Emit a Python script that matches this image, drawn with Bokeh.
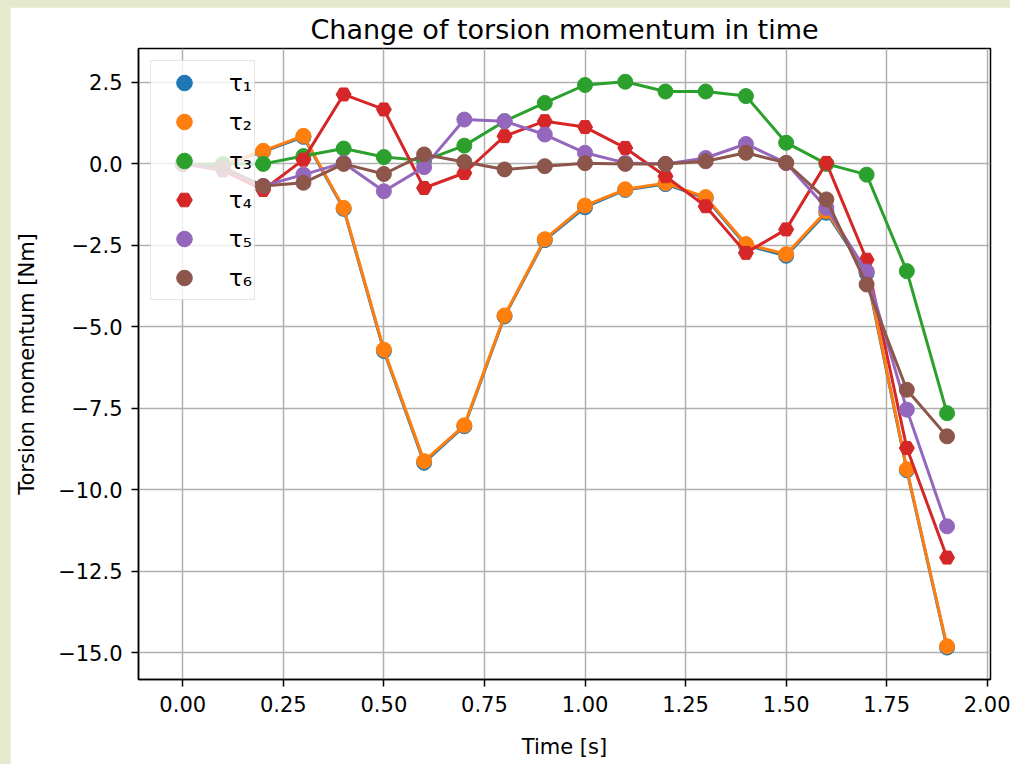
from bokeh.plotting import figure
from bokeh.embed import file_html
from bokeh.resources import INLINE
from bokeh.models import Range1d, FixedTicker, Legend, LegendItem, CustomJSTickFormatter
from bokeh.layouts import column

# ---- data ----
time_s = [0.0, 0.1, 0.2, 0.3, 0.4, 0.5, 0.6, 0.7, 0.8, 0.9,
          1.0, 1.1, 1.2, 1.3, 1.4, 1.5, 1.6, 1.7, 1.8, 1.9]
tau1 = [0.0, -0.05, 0.38, 0.83, -1.38, -5.74, -9.17, -8.05, -4.68, -2.34,
        -1.33, -0.80, -0.62, -1.05, -2.50, -2.82, -1.50, -3.36, -9.40, -14.84]
tau2 = [0.0, -0.05, 0.40, 0.86, -1.35, -5.70, -9.12, -8.02, -4.65, -2.31,
        -1.28, -0.78, -0.59, -1.02, -2.46, -2.77, -1.45, -3.30, -9.37, -14.80]
tau3 = [0.0, 0.0, 0.0, 0.24, 0.47, 0.21, 0.10, 0.56, 1.31, 1.87,
        2.42, 2.52, 2.22, 2.22, 2.08, 0.65, 0.0, -0.33, -3.29, -7.65]
tau4 = [0.0, -0.20, -0.80, 0.13, 2.13, 1.67, -0.74, -0.28, 0.85, 1.31,
        1.13, 0.49, -0.38, -1.30, -2.73, -2.01, 0.03, -2.94, -8.72, -12.08]
tau5 = [0.0, -0.15, -0.68, -0.33, 0.03, -0.84, -0.10, 1.36, 1.31, 0.90,
        0.34, 0.03, 0.0, 0.18, 0.61, 0.03, -1.35, -3.30, -7.54, -11.12]
tau6 = [0.0, -0.10, -0.68, -0.58, 0.0, -0.31, 0.29, 0.06, -0.17, -0.07,
        0.02, 0.0, 0.0, 0.08, 0.34, 0.03, -1.09, -3.70, -6.93, -8.36]

series_values = [tau1, tau2, tau3, tau4, tau5, tau6]
series_labels = ["τ₁", "τ₂", "τ₃", "τ₄", "τ₅", "τ₆"]
series_colors = ["#1f77b4", "#ff7f0e", "#2ca02c", "#d62728", "#9467bd", "#8c564b"]
series_markers = ["circle", "circle", "circle", "hex", "circle", "circle"]

x_ticks = [0.0, 0.25, 0.5, 0.75, 1.0, 1.25, 1.5, 1.75, 2.0]
x_tick_labels = ["0.00", "0.25", "0.50", "0.75", "1.00", "1.25", "1.50", "1.75", "2.00"]
y_ticks = [2.5, 0.0, -2.5, -5.0, -7.5, -10.0, -12.5, -15.0]
y_tick_labels = ["2.5", "0.0", "\u22122.5", "\u22125.0", "\u22127.5", "\u221210.0", "\u221212.5", "\u221215.0"]

FONT = "DejaVu Sans"

p = figure(width=1000, height=757, output_backend="svg", toolbar_location=None,
           x_range=Range1d(-0.11, 2.008), y_range=Range1d(-15.82, 3.54),
           title="Change of torsion momentum in time",
           x_axis_label="Time [s]", y_axis_label="Torsion momentum [Nm]",
           min_border_left=128, min_border_right=20, min_border_top=41, min_border_bottom=85)
p.margin = (7, 0, 0, 10)

p.background_fill_color = "white"
p.border_fill_color = "white"
p.outline_line_color = "black"
p.outline_line_width = 1.5

p.title.text_font = FONT
p.title.text_font_size = "27px"
p.title.text_font_style = "normal"
p.title.align = "center"
p.title.text_color = "black"
p.title.standoff = 8

fmt_code = """
let best = 0;
for (let i = 0; i < tvals.length; i++) {
  if (Math.abs(tvals[i] - tick) < Math.abs(tvals[best] - tick)) best = i;
}
return tlabels[best];
"""
p.xaxis.ticker = FixedTicker(ticks=x_ticks)
p.yaxis.ticker = FixedTicker(ticks=y_ticks)
p.xaxis.formatter = CustomJSTickFormatter(args=dict(tvals=x_ticks, tlabels=x_tick_labels), code=fmt_code)
p.yaxis.formatter = CustomJSTickFormatter(args=dict(tvals=y_ticks, tlabels=y_tick_labels), code=fmt_code)

for ax in (p.xaxis, p.yaxis):
    ax.axis_line_color = "black"
    ax.axis_line_width = 1.5
    ax.major_tick_line_color = "black"
    ax.major_tick_line_width = 1.5
    ax.major_tick_out = 7
    ax.major_tick_in = 0
    ax.minor_tick_line_color = None
    ax.major_label_text_font = FONT
    ax.major_label_text_font_size = "21px"
    ax.major_label_text_color = "black"
    ax.major_label_standoff = 9
    ax.axis_label_text_font = FONT
    ax.axis_label_text_font_size = "21px"
    ax.axis_label_text_font_style = "normal"
    ax.axis_label_text_color = "black"
p.xaxis.axis_label_standoff = 20
p.yaxis.axis_label_standoff = 16

p.grid.grid_line_color = "#b0b0b0"
p.grid.grid_line_width = 1.5

items = []
for vals, lab, col, mk in zip(series_values, series_labels, series_colors, series_markers):
    p.line(time_s, vals, line_color=col, line_width=3)
    r = p.scatter(time_s, vals, marker=mk, size=15, fill_color=col, line_color=col)
    items.append(LegendItem(label=lab, renderers=[r]))

legend = Legend(items=items, location="top_left")
legend.margin = 12
legend.padding = 2
legend.spacing = 0
legend.glyph_width = 62
legend.glyph_height = 39
legend.label_height = 39
legend.label_standoff = 14
legend.label_text_font = FONT
legend.label_text_font_size = "23px"
legend.label_text_color = "black"
legend.background_fill_color = "white"
legend.background_fill_alpha = 0.8
legend.border_line_color = "#cccccc"
legend.border_line_width = 1.5
p.add_layout(legend)

page = column(p, styles={"background-color": "#e5eacf"})

open("out.html", "w").write(file_html(page, INLINE))
